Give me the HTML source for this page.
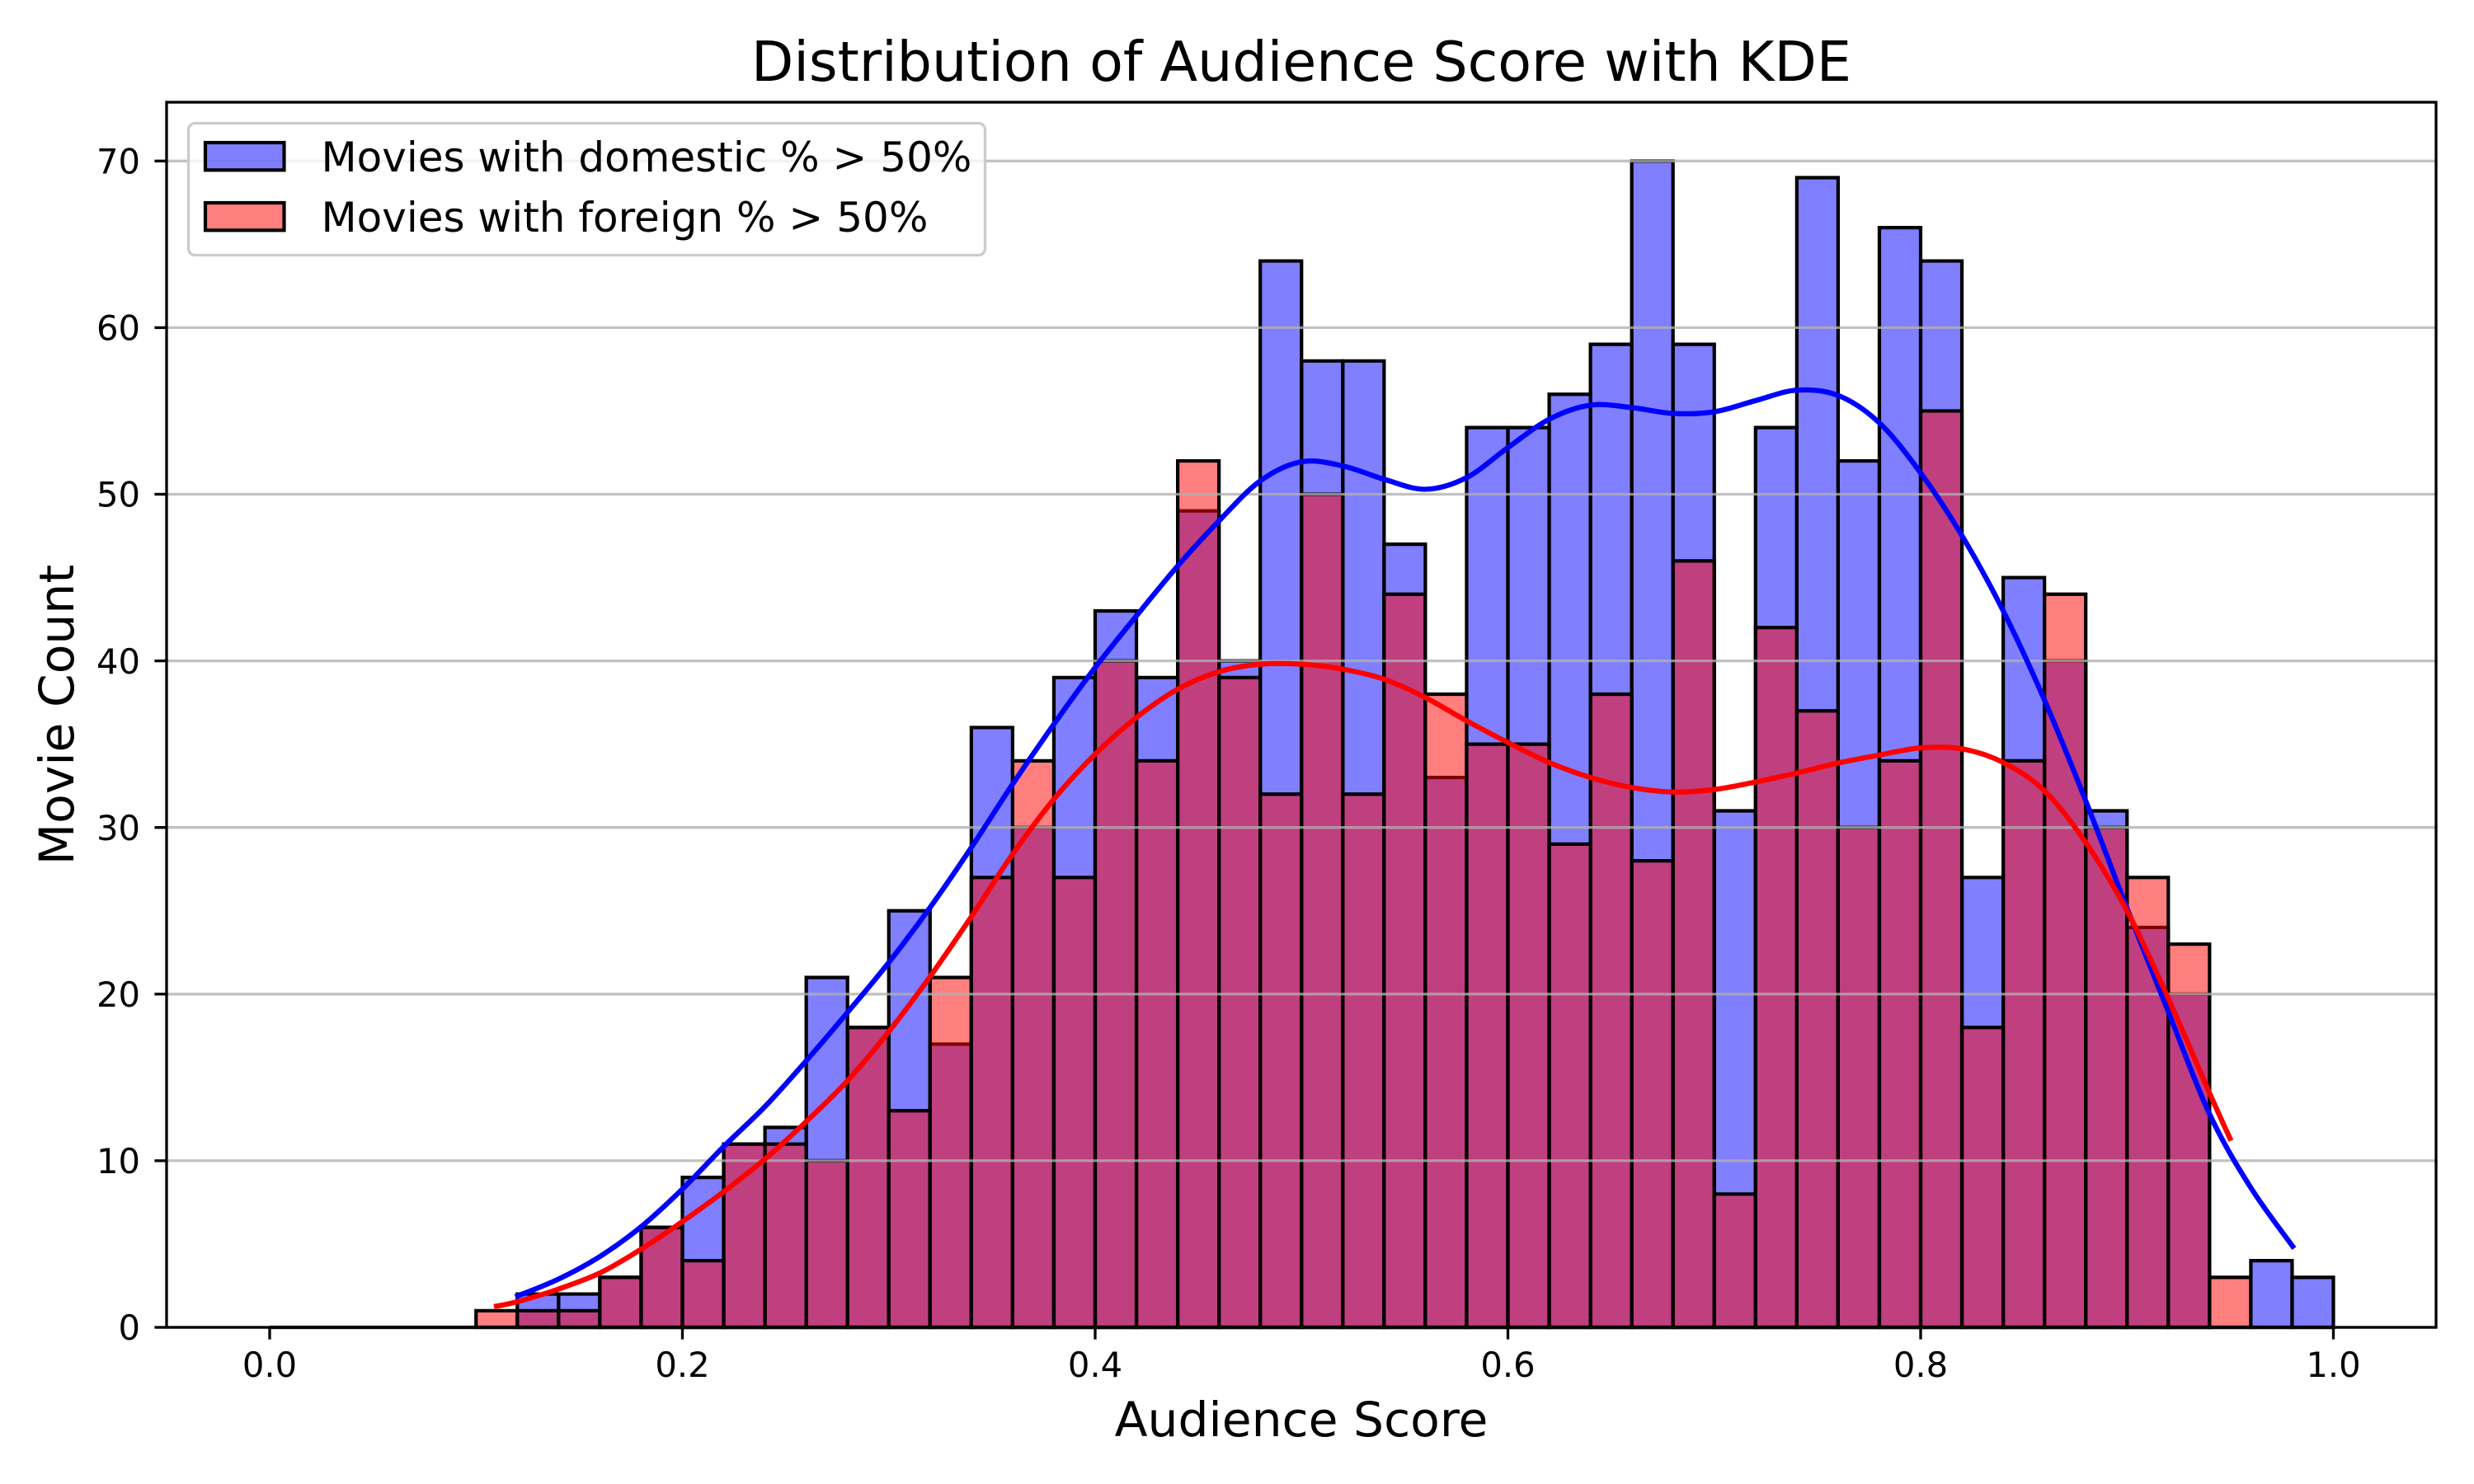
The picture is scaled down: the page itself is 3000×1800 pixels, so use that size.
<!DOCTYPE html>
<html>
<head>
<meta charset="utf-8">
<style>
html,body{margin:0;padding:0;background:#fff;}
svg{display:block;}
.bars rect{vector-effect:non-scaling-stroke;}
.kde path{vector-effect:non-scaling-stroke;}
text{font-family:"DejaVu Sans","Liberation Sans",sans-serif;fill:#000;}
</style>
</head>
<body>
<svg width="3000" height="1800" viewBox="0 0 3000 1800" xmlns="http://www.w3.org/2000/svg">
<rect x="0" y="0" width="3000" height="1800" fill="#fff"/>

<g class="bars" transform="translate(327 1610) scale(50.05 -20.21)" fill="rgba(0,0,255,0.5)" stroke="#000" stroke-width="4.2">
<rect x="6" y="0" width="1" height="2"/>
<rect x="7" y="0" width="1" height="2"/>
<rect x="8" y="0" width="1" height="3"/>
<rect x="9" y="0" width="1" height="6"/>
<rect x="10" y="0" width="1" height="9"/>
<rect x="11" y="0" width="1" height="11"/>
<rect x="12" y="0" width="1" height="12"/>
<rect x="13" y="0" width="1" height="21"/>
<rect x="14" y="0" width="1" height="18"/>
<rect x="15" y="0" width="1" height="25"/>
<rect x="16" y="0" width="1" height="17"/>
<rect x="17" y="0" width="1" height="36"/>
<rect x="18" y="0" width="1" height="30"/>
<rect x="19" y="0" width="1" height="39"/>
<rect x="20" y="0" width="1" height="43"/>
<rect x="21" y="0" width="1" height="39"/>
<rect x="22" y="0" width="1" height="49"/>
<rect x="23" y="0" width="1" height="40"/>
<rect x="24" y="0" width="1" height="64"/>
<rect x="25" y="0" width="1" height="58"/>
<rect x="26" y="0" width="1" height="58"/>
<rect x="27" y="0" width="1" height="47"/>
<rect x="28" y="0" width="1" height="33"/>
<rect x="29" y="0" width="1" height="54"/>
<rect x="30" y="0" width="1" height="54"/>
<rect x="31" y="0" width="1" height="56"/>
<rect x="32" y="0" width="1" height="59"/>
<rect x="33" y="0" width="1" height="70"/>
<rect x="34" y="0" width="1" height="59"/>
<rect x="35" y="0" width="1" height="31"/>
<rect x="36" y="0" width="1" height="54"/>
<rect x="37" y="0" width="1" height="69"/>
<rect x="38" y="0" width="1" height="52"/>
<rect x="39" y="0" width="1" height="66"/>
<rect x="40" y="0" width="1" height="64"/>
<rect x="41" y="0" width="1" height="27"/>
<rect x="42" y="0" width="1" height="45"/>
<rect x="43" y="0" width="1" height="40"/>
<rect x="44" y="0" width="1" height="31"/>
<rect x="45" y="0" width="1" height="24"/>
<rect x="46" y="0" width="1" height="20"/>
<rect x="48" y="0" width="1" height="4"/>
<rect x="49" y="0" width="1" height="3"/>
</g>

<g class="bars" transform="translate(327 1610) scale(50.05 -20.21)" fill="rgba(255,0,0,0.5)" stroke="#000" stroke-width="4.2">
<rect x="5" y="0" width="1" height="1"/>
<rect x="6" y="0" width="1" height="1"/>
<rect x="7" y="0" width="1" height="1"/>
<rect x="8" y="0" width="1" height="3"/>
<rect x="9" y="0" width="1" height="6"/>
<rect x="10" y="0" width="1" height="4"/>
<rect x="11" y="0" width="1" height="11"/>
<rect x="12" y="0" width="1" height="11"/>
<rect x="13" y="0" width="1" height="10"/>
<rect x="14" y="0" width="1" height="18"/>
<rect x="15" y="0" width="1" height="13"/>
<rect x="16" y="0" width="1" height="21"/>
<rect x="17" y="0" width="1" height="27"/>
<rect x="18" y="0" width="1" height="34"/>
<rect x="19" y="0" width="1" height="27"/>
<rect x="20" y="0" width="1" height="40"/>
<rect x="21" y="0" width="1" height="34"/>
<rect x="22" y="0" width="1" height="52"/>
<rect x="23" y="0" width="1" height="39"/>
<rect x="24" y="0" width="1" height="32"/>
<rect x="25" y="0" width="1" height="50"/>
<rect x="26" y="0" width="1" height="32"/>
<rect x="27" y="0" width="1" height="44"/>
<rect x="28" y="0" width="1" height="38"/>
<rect x="29" y="0" width="1" height="35"/>
<rect x="30" y="0" width="1" height="35"/>
<rect x="31" y="0" width="1" height="29"/>
<rect x="32" y="0" width="1" height="38"/>
<rect x="33" y="0" width="1" height="28"/>
<rect x="34" y="0" width="1" height="46"/>
<rect x="35" y="0" width="1" height="8"/>
<rect x="36" y="0" width="1" height="42"/>
<rect x="37" y="0" width="1" height="37"/>
<rect x="38" y="0" width="1" height="30"/>
<rect x="39" y="0" width="1" height="34"/>
<rect x="40" y="0" width="1" height="55"/>
<rect x="41" y="0" width="1" height="18"/>
<rect x="42" y="0" width="1" height="34"/>
<rect x="43" y="0" width="1" height="44"/>
<rect x="44" y="0" width="1" height="30"/>
<rect x="45" y="0" width="1" height="27"/>
<rect x="46" y="0" width="1" height="23"/>
<rect x="47" y="0" width="1" height="3"/>
</g>

<line x1="327" y1="1610" x2="2829.5" y2="1610" stroke="#000" stroke-width="4.2"/>

<g stroke="#b0b0b0" stroke-opacity="0.78" stroke-width="3.3">
<line x1="202" y1="1610" x2="2954" y2="1610"/>
<line x1="202" y1="1407.9" x2="2954" y2="1407.9"/>
<line x1="202" y1="1205.8" x2="2954" y2="1205.8"/>
<line x1="202" y1="1003.7" x2="2954" y2="1003.7"/>
<line x1="202" y1="801.6" x2="2954" y2="801.6"/>
<line x1="202" y1="599.5" x2="2954" y2="599.5"/>
<line x1="202" y1="397.4" x2="2954" y2="397.4"/>
<line x1="202" y1="195.3" x2="2954" y2="195.3"/>
</g>

<g class="kde" transform="translate(327 1610) scale(50.05 -20.21)" fill="none" stroke-width="6.25" stroke-linejoin="round">
<path stroke="#0000ff" d="M5.95 1.83 C6.125 2.008 6.658 2.497 7 2.9 C7.342 3.303 7.667 3.727 8 4.25 C8.333 4.773 8.667 5.365 9 6.04 C9.333 6.715 9.667 7.498 10 8.3 C10.333 9.102 10.667 10.025 11 10.85 C11.333 11.675 11.667 12.392 12 13.25 C12.333 14.108 12.667 15.058 13 16 C13.333 16.942 13.667 17.917 14 18.9 C14.333 19.883 14.667 20.85 15 21.9 C15.333 22.95 15.667 24.05 16 25.2 C16.333 26.35 16.667 27.567 17 28.8 C17.333 30.033 17.667 31.367 18 32.6 C18.333 33.833 18.667 35.033 19 36.2 C19.333 37.367 19.667 38.517 20 39.6 C20.333 40.683 20.667 41.683 21 42.7 C21.333 43.717 21.667 44.75 22 45.7 C22.333 46.65 22.667 47.55 23 48.4 C23.333 49.25 23.667 50.208 24 50.8 C24.333 51.392 24.667 51.8 25 51.95 C25.333 52.1 25.667 51.875 26 51.7 C26.333 51.525 26.667 51.133 27 50.9 C27.333 50.667 27.667 50.283 28 50.3 C28.333 50.317 28.667 50.583 29 51 C29.333 51.417 29.667 52.217 30 52.8 C30.333 53.383 30.667 54.075 31 54.5 C31.333 54.925 31.667 55.233 32 55.35 C32.333 55.467 32.667 55.283 33 55.2 C33.333 55.117 33.667 54.892 34 54.85 C34.333 54.808 34.667 54.822 35 54.95 C35.333 55.078 35.667 55.403 36 55.62 C36.333 55.837 36.667 56.198 37 56.25 C37.333 56.302 37.667 56.258 38 55.93 C38.333 55.602 38.667 55.055 39 54.28 C39.333 53.505 39.667 52.407 40 51.28 C40.333 50.153 40.667 48.9 41 47.52 C41.333 46.14 41.667 44.645 42 43 C42.333 41.355 42.667 39.55 43 37.65 C43.333 35.75 43.667 33.683 44 31.6 C44.333 29.517 44.667 27.258 45 25.15 C45.333 23.042 45.667 21.008 46 18.95 C46.333 16.892 46.667 14.562 47 12.8 C47.333 11.038 47.658 9.723 48 8.38 C48.342 7.037 48.875 5.347 49.05 4.74"/>
<path stroke="#ff0000" d="M5.435 1.24 C5.529 1.29 5.739 1.363 6 1.54 C6.261 1.717 6.667 2.013 7 2.3 C7.333 2.587 7.667 2.862 8 3.26 C8.333 3.658 8.667 4.175 9 4.69 C9.333 5.205 9.667 5.775 10 6.35 C10.333 6.925 10.667 7.515 11 8.14 C11.333 8.765 11.667 9.398 12 10.1 C12.333 10.802 12.667 11.567 13 12.35 C13.333 13.133 13.667 13.9 14 14.8 C14.333 15.7 14.667 16.708 15 17.75 C15.333 18.792 15.667 19.9 16 21.05 C16.333 22.2 16.667 23.425 17 24.65 C17.333 25.875 17.667 27.225 18 28.4 C18.333 29.575 18.667 30.7 19 31.7 C19.333 32.7 19.667 33.583 20 34.4 C20.333 35.217 20.667 35.95 21 36.6 C21.333 37.25 21.667 37.842 22 38.3 C22.333 38.758 22.667 39.1 23 39.35 C23.333 39.6 23.667 39.725 24 39.8 C24.333 39.875 24.667 39.85 25 39.8 C25.333 39.75 25.667 39.65 26 39.5 C26.333 39.35 26.667 39.183 27 38.9 C27.333 38.617 27.667 38.217 28 37.8 C28.333 37.383 28.667 36.85 29 36.4 C29.333 35.95 29.667 35.517 30 35.1 C30.333 34.683 30.667 34.25 31 33.9 C31.333 33.55 31.667 33.25 32 33 C32.333 32.75 32.667 32.545 33 32.4 C33.333 32.255 33.667 32.15 34 32.13 C34.333 32.11 34.667 32.18 35 32.28 C35.333 32.38 35.667 32.565 36 32.73 C36.333 32.895 36.667 33.08 37 33.27 C37.333 33.46 37.667 33.69 38 33.87 C38.333 34.05 38.667 34.198 39 34.35 C39.333 34.502 39.667 34.718 40 34.78 C40.333 34.842 40.667 34.867 41 34.72 C41.333 34.573 41.667 34.32 42 33.9 C42.333 33.48 42.667 33 43 32.2 C43.333 31.4 43.667 30.3 44 29.1 C44.333 27.9 44.667 26.56 45 25 C45.333 23.44 45.667 21.563 46 19.74 C46.333 17.917 46.747 15.483 47 14.06 C47.253 12.637 47.433 11.677 47.52 11.2"/>
</g>

<rect x="202" y="124" width="2752" height="1486" fill="none" stroke="#000" stroke-width="3.33"/>

<g stroke="#000" stroke-width="3.33">
<line x1="187.4" y1="1610" x2="202" y2="1610"/>
<line x1="187.4" y1="1407.9" x2="202" y2="1407.9"/>
<line x1="187.4" y1="1205.8" x2="202" y2="1205.8"/>
<line x1="187.4" y1="1003.7" x2="202" y2="1003.7"/>
<line x1="187.4" y1="801.6" x2="202" y2="801.6"/>
<line x1="187.4" y1="599.5" x2="202" y2="599.5"/>
<line x1="187.4" y1="397.4" x2="202" y2="397.4"/>
<line x1="187.4" y1="195.3" x2="202" y2="195.3"/>
<line x1="327" y1="1610" x2="327" y2="1624.6"/>
<line x1="827.5" y1="1610" x2="827.5" y2="1624.6"/>
<line x1="1328" y1="1610" x2="1328" y2="1624.6"/>
<line x1="1828.5" y1="1610" x2="1828.5" y2="1624.6"/>
<line x1="2329" y1="1610" x2="2329" y2="1624.6"/>
<line x1="2829.5" y1="1610" x2="2829.5" y2="1624.6"/>
</g>

<g font-size="41.67" text-anchor="end">
<text x="170" y="1625.2">0</text>
<text x="170" y="1423.1">10</text>
<text x="170" y="1221">20</text>
<text x="170" y="1018.9">30</text>
<text x="170" y="816.8">40</text>
<text x="170" y="614.7">50</text>
<text x="170" y="412.6">60</text>
<text x="170" y="210.5">70</text>
</g>

<g font-size="41.67" text-anchor="middle">
<text x="327" y="1670">0.0</text>
<text x="827.5" y="1670">0.2</text>
<text x="1328" y="1670">0.4</text>
<text x="1828.5" y="1670">0.6</text>
<text x="2329" y="1670">0.8</text>
<text x="2829.5" y="1670">1.0</text>
</g>

<text x="1578" y="1742" font-size="58.33" text-anchor="middle">Audience Score</text>
<text transform="translate(89 867) rotate(-90)" font-size="58.33" text-anchor="middle">Movie Count</text>

<text x="1578" y="98" font-size="66.67" text-anchor="middle">Distribution of Audience Score with KDE</text>

<rect x="228.5" y="149.5" width="966" height="160" rx="8" ry="8" fill="#fff" fill-opacity="0.8" stroke="#cccccc" stroke-width="3.33"/>
<rect x="249" y="173" width="95.5" height="33.3" fill="rgba(0,0,255,0.5)" stroke="#000" stroke-width="4.2"/>
<rect x="249" y="246" width="95.5" height="33.3" fill="rgba(255,0,0,0.5)" stroke="#000" stroke-width="4.2"/>
<g font-size="50">
<text x="389.5" y="208">Movies with domestic % &gt; 50%</text>
<text x="389.5" y="281">Movies with foreign % &gt; 50%</text>
</g>
</svg>
</body>
</html>
